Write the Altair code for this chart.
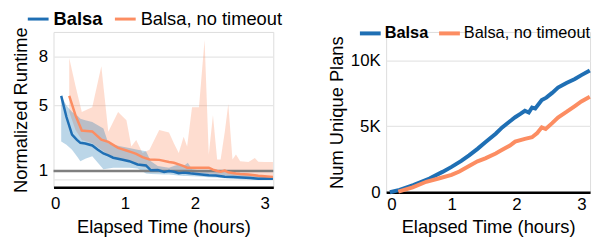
import altair as alt
import pandas as pd

FONT = "Liberation Sans"
BLUE = "#1f6fb4"
ORANGE = "#fc8d62"
SERIES = ["Balsa", "Balsa, no timeout"]

# ---- Left panel: normalized runtime (median + band) ----
balsa_t = [0.085, 0.16, 0.24, 0.31, 0.36, 0.43, 0.53, 0.61, 0.69, 0.76, 0.83, 0.95, 1.06, 1.18, 1.30,
           1.37, 1.47, 1.56, 1.63, 1.70, 1.77, 1.84, 1.90, 1.96, 2.06, 2.20, 2.30, 2.43, 2.55, 2.67,
           2.80, 2.91, 3.00, 3.12]
balsa_med = [5.59, 4.3, 3.22, 2.9, 2.72, 2.68, 2.56, 2.3, 2.07, 1.95, 1.81, 1.7, 1.6, 1.4, 1.34,
             1.04, 1.06, 0.94, 1.0, 0.95, 0.86, 0.9, 0.88, 0.84, 0.8, 0.74, 0.72, 0.65, 0.63, 0.6,
             0.57, 0.53, 0.54, 0.53]
balsa_lo = [2.8, 2.6, 2.3, 1.9, 1.6, 1.75, 1.9, 1.5, 1.1, 1.15, 1.2, 1.2, 1.2, 1.15, 0.84,
            0.82, 0.8, 0.78, 0.78, 0.75, 0.72, 0.7, 0.7, 0.68, 0.66, 0.62, 0.6, 0.56, 0.52, 0.5,
            0.48, 0.47, 0.46, 0.45]
balsa_hi = [5.6, 5.0, 4.6, 4.4, 4.2, 4.1, 4.0, 3.8, 3.6, 2.7, 2.6, 2.5, 2.4, 2.3, 2.2,
            1.6, 1.3, 1.25, 1.2, 1.3, 1.4, 1.3, 1.5, 1.1, 1.05, 1.0, 0.95, 0.9, 0.85, 0.8,
            0.75, 0.72, 0.7, 0.68]

nt_t = [0.20, 0.29, 0.38, 0.45, 0.53, 0.66, 0.76, 0.90, 1.02, 1.09, 1.16, 1.25, 1.35, 1.49, 1.63,
        1.70, 1.77, 1.84, 1.89, 1.96, 2.06, 2.14, 2.20, 2.26, 2.32, 2.37, 2.43, 2.48, 2.54, 2.59,
        2.65, 2.77, 2.86, 2.91, 3.00, 3.12]
nt_med = [5.59, 4.4, 3.47, 3.45, 3.42, 2.92, 2.78, 2.41, 2.25, 2.15, 2.05, 1.85, 1.7, 1.68, 1.55,
          1.5, 1.4, 1.3, 1.2, 1.2, 1.2, 1.2, 1.2, 1.08, 1.0, 0.95, 1.02, 0.92, 0.88, 0.85,
          0.82, 0.78, 0.74, 0.71, 0.68, 0.64]
nt_lo = [4.6, 3.5, 2.9, 2.8, 2.7, 2.3, 2.0, 1.8, 1.6, 1.5, 1.35, 1.25, 1.15, 1.05, 1.0,
         0.95, 0.9, 0.9, 0.88, 0.86, 0.85, 0.84, 0.8, 0.78, 0.76, 0.74, 0.72, 0.7, 0.68, 0.66,
         0.64, 0.62, 0.6, 0.58, 0.56, 0.55]
nt_hi = [7.9, 6.2, 4.6, 4.75, 4.9, 7.4, 3.4, 4.6, 4.1, 2.5, 2.9, 2.1, 2.3, 3.5, 3.35,
         2.7, 2.1, 3.1, 2.5, 4.9, 4.9, 9.0, 2.0, 4.4, 1.7, 1.7, 3.4, 5.1, 1.7, 2.0,
         1.6, 1.55, 1.8, 1.57, 1.55, 1.55]

ref_value = [1.0]
runtime_ticks = [0.5, 1, 5, 8]

# ---- Right panel: number of unique plans ----
plans_balsa_t = [0.05, 0.2, 0.41, 0.66, 0.86, 1.0, 1.15, 1.27, 1.4, 1.52, 1.68, 1.78, 1.9, 1.98, 2.06,
                 2.13, 2.19, 2.24, 2.29, 2.39, 2.46, 2.55, 2.64, 2.77, 2.9, 3.0, 3.13]
plans_balsa = [0, 180, 550, 1050, 1550, 1930, 2380, 2800, 3300, 3800, 4450, 4930, 5400, 5700, 5950,
               6190, 6060, 6440, 6360, 7000, 7190, 7550, 7950, 8300, 8600, 8900, 9250]
plans_nt_t = [0.18, 0.4, 0.61, 0.8, 1.0, 1.12, 1.27, 1.4, 1.52, 1.68, 1.78, 1.9, 1.98, 2.13, 2.24,
              2.32, 2.39, 2.45, 2.55, 2.64, 2.77, 2.9, 3.0, 3.13]
plans_nt = [50, 380, 800, 1050, 1320, 1580, 2000, 2350, 2580, 2950, 3230, 3550, 3850, 4060, 4180,
            4500, 4930, 4810, 5250, 5680, 6100, 6550, 6900, 7260]
plans_ticks = [0, 5000, 10000]
hour_ticks = [0, 1, 2, 3]

band_df = pd.concat([
    pd.DataFrame({"t": balsa_t, "med": balsa_med, "lo": balsa_lo, "hi": balsa_hi, "s": SERIES[0]}),
    pd.DataFrame({"t": nt_t, "med": nt_med, "lo": nt_lo, "hi": nt_hi, "s": SERIES[1]}),
])
plans_df = pd.concat([
    pd.DataFrame({"t": plans_balsa_t, "n": plans_balsa, "s": SERIES[0]}),
    pd.DataFrame({"t": plans_nt_t, "n": plans_nt, "s": SERIES[1]}),
])

TICK_FS = 17
TITLE_FS = 18.5


def x_axis(label_pad, title_pad):
    return alt.Axis(values=hour_ticks, title="Elapsed Time (hours)", grid=False, ticks=False,
                    domainColor="black", domainWidth=2.5, labelFontSize=TICK_FS, labelPadding=label_pad,
                    titleFontSize=TITLE_FS, titleFontWeight="normal", titlePadding=title_pad,
                    labelColor="black", titleColor="black", format="d")


def legend_layers(dx, dy, w_sym, gap_txt, x_second, lw, fs):
    layers = []
    for i, name in enumerate(SERIES):
        x0 = dx + (x_second if i == 1 else 0)
        d = pd.DataFrame({"label": [name]})
        layers.append(alt.Chart(d).mark_rule(color=[BLUE, ORANGE][i], strokeWidth=lw).encode(
            x=alt.value(x0), x2=alt.value(x0 + w_sym), y=alt.value(dy)))
        layers.append(alt.Chart(d).mark_text(
            align="left", baseline="middle", fontSize=fs, font=FONT, color="black",
            fontWeight="bold" if i == 0 else "normal").encode(
            x=alt.value(x0 + w_sym + gap_txt), y=alt.value(dy), text="label:N"))
    return layers


xs_left = alt.Scale(domain=[-0.025, 3.125], nice=False, zero=False)
ys_left = alt.Scale(domain=[0, 9.5], nice=False)
y_left_axis = alt.Axis(values=runtime_ticks, title="Normalized Runtime", ticks=False, domain=False,
                       gridColor="#e6e6e6", gridWidth=1.2, labelFontSize=TICK_FS, labelPadding=6,
                       labelExpr="datum.value == 0.5 ? '' : datum.label",
                       titleFontSize=TITLE_FS, titleFontWeight="normal", titlePadding=8,
                       labelColor="black", titleColor="black")

base_l = alt.Chart(band_df)
x_l = alt.X("t:Q", scale=xs_left, axis=x_axis(8, 6.5))

orange_band = base_l.transform_filter(alt.datum.s == SERIES[1]).mark_area(
    color=ORANGE, opacity=0.3).encode(x=x_l, y=alt.Y("lo:Q", scale=ys_left, axis=y_left_axis), y2="hi:Q")
blue_band = base_l.transform_filter(alt.datum.s == SERIES[0]).mark_area(
    color="#1f77b4", opacity=0.3).encode(x=x_l, y=alt.Y("lo:Q", scale=ys_left, axis=y_left_axis), y2="hi:Q")
ref = alt.Chart(pd.DataFrame({"v": ref_value})).mark_rule(color="#7f7f7f", strokeWidth=2.4).encode(
    y=alt.Y("v:Q", scale=ys_left, axis=y_left_axis))
blue_line = base_l.transform_filter(alt.datum.s == SERIES[0]).mark_line(
    color=BLUE, strokeWidth=2.5).encode(x=x_l, y=alt.Y("med:Q", scale=ys_left, axis=y_left_axis))
orange_line = base_l.transform_filter(alt.datum.s == SERIES[1]).mark_line(
    color=ORANGE, strokeWidth=2.5).encode(x=x_l, y=alt.Y("med:Q", scale=ys_left, axis=y_left_axis))

left = alt.layer(orange_band, blue_band, ref, blue_line, orange_line,
                 *legend_layers(-26, -13, 21, 5, 88, 3, 18.5)).properties(width=222, height=157)

xs_right = alt.Scale(domain=[-0.008, 3.134], nice=False, zero=False)
ys_right = alt.Scale(domain=[0, 12180], nice=False)
y_right_axis = alt.Axis(values=plans_ticks, title="Num Unique Plans", ticks=False, domain=False,
                        gridColor="#e6e6e6", gridWidth=1.2, labelFontSize=TICK_FS, labelPadding=6,
                        labelExpr="datum.value == 0 ? '0' : (datum.value / 1000) + 'K'",
                        titleFontSize=TITLE_FS, titleFontWeight="normal", titlePadding=4,
                        labelColor="black", titleColor="black")

plans_lines = alt.Chart(plans_df).mark_line(strokeWidth=4).encode(
    x=alt.X("t:Q", scale=xs_right, axis=x_axis(4, 5.5)),
    y=alt.Y("n:Q", scale=ys_right, axis=y_right_axis),
    color=alt.Color("s:N", scale=alt.Scale(domain=SERIES, range=[BLUE, ORANGE]), legend=None),
)
right = alt.layer(plans_lines, *legend_layers(-26.5, 1.5, 21, 4, 80, 4, 16.5)).properties(width=206, height=162)

chart = alt.hconcat(left, right, spacing=114, bounds="flush").properties(
    padding={"left": 3, "top": 0, "right": -3, "bottom": 0}).configure_view(
    stroke=None).configure(font=FONT)

chart.save("out.html", embed_options={"renderer": "svg", "actions": False})
